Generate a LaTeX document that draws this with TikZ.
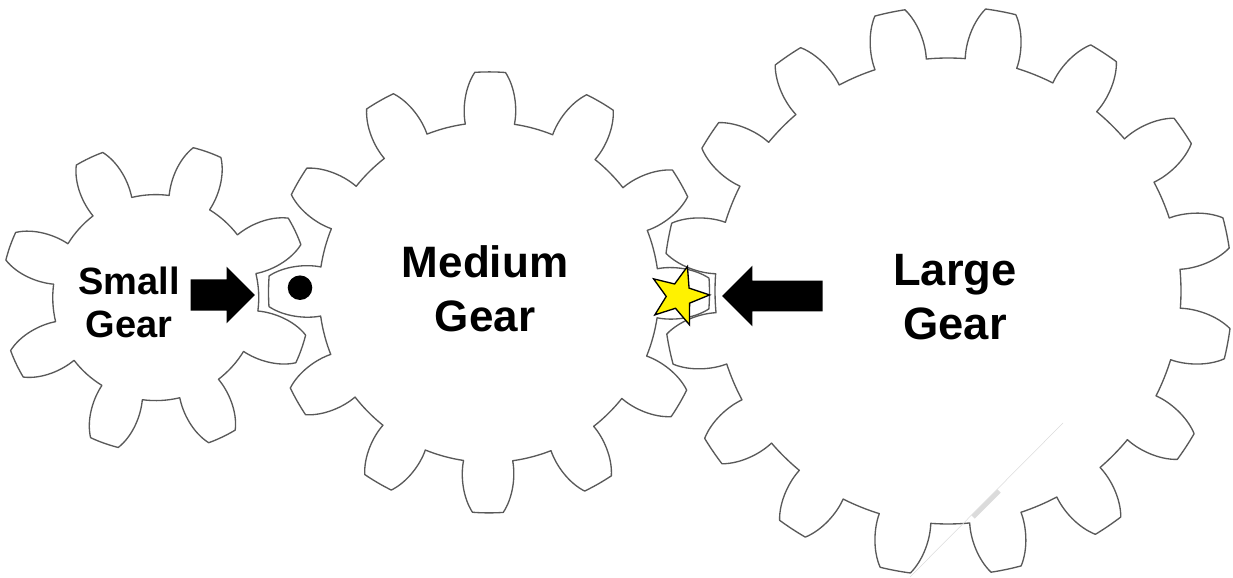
\documentclass[tikz,border=0pt]{standalone}
\usepackage{fontspec}
\setmainfont{Liberation Sans}
\usetikzlibrary{
    arrows.meta,
    positioning,
    shapes.arrows,
    shapes.geometric,
}
\tikzstyle{gear}=[draw=black!65,line width=1pt,line join=round]
\tikzstyle{label}=[align=center,inner sep=0mm,font=\bfseries]
\tikzstyle{push}=[single arrow,fill=black,inner sep=0mm,outer sep=0mm,single arrow head extend=#1]
\tikzstyle{scratch}=[draw=black!14,line cap=butt]
% centre x, centre y, teeth, first tooth angle, root radius, tip radius, half tooth at root, half tooth at tip
\newcommand{\Gear}[8]{%
    \begin{scope}[shift={(#1,#2)}]
        \pgfmathsetmacro\GearPitch{360/#3}
        \pgfmathsetmacro\GearDiff{#6-#5}
        \draw[gear] ({#4-#7}:#5)
            foreach \i [evaluate=\i as \T using #4+(\i-1)*\GearPitch] in {1,...,#3} {
                .. controls ({\T-1.03*#7}:{#5+.3*\GearDiff}) and ({\T-.85*#7}:{#5+.72*\GearDiff}) .. ({\T-#8}:#6)
                arc[start angle=\T-#8,end angle=\T+#8,radius=#6]
                .. controls ({\T+.85*#7}:{#5+.72*\GearDiff}) and ({\T+1.03*#7}:{#5+.3*\GearDiff}) .. ({\T+#7}:#5)
                arc[start angle=\T+#7,end angle=\T+\GearPitch-#7,radius=#5]
            } -- cycle;
    \end{scope}
}

\begin{document}
\begin{tikzpicture}[x=.75pt,y=.75pt]
    \useasboundingbox (0,0) rectangle (1233,578);

    % Gears
    \Gear{155.75}{280.4}{8}{25.5}{103}{154.5}{12}{5.45}
    \Gear{489}{285.6}{12}{-.3}{170}{220.5}{8.3}{4}
    \Gear{948}{287}{16}{11.8}{233}{284.5}{6.45}{3.1}

    % Scratches
    \coordinate (scratch a) at (1063,155);
    \coordinate (scratch b) at (910,1);
    \coordinate (scratch c) at (973,61);
    \coordinate (scratch d) at (999,87);
    \draw[scratch,line width=.4pt] (scratch a) -- (scratch b);
    \draw[scratch,line width=3.6pt] (scratch c) -- (scratch d);

    % Labels
    \node[label,font=\bfseries\fontsize{28.5}{32.3}\selectfont] (Small Gear) at (129,276) {Small\\Gear};
    \node[label,font=\bfseries\fontsize{33}{40.5}\selectfont] (Medium Gear) at (485,289) {Medium\\Gear};
    \node[label,font=\bfseries\fontsize{34}{41}\selectfont] (Large Gear) at (955,281) {Large\\Gear};

    % Arrows
    \node[push=9.6pt,minimum height=48.2pt,anchor=tail] (small arrow) at (190.7,283) {\rule{0pt}{23pt}};
    \node[push=11.25pt,minimum height=75.5pt,shape border rotate=180,anchor=tail] (large arrow) at (822.7,282) {\rule{0pt}{22.5pt}};

    % Markers
    \node[circle,fill=black,inner sep=0mm,minimum size=18.4pt] (dot) at (300,290.3) {};
    \node[star,star points=5,star point ratio=2.4,draw=black,line width=1pt,fill=yellow,inner sep=0mm,minimum size=46pt,shape border rotate=-16] (mark) at (679,282) {};
\end{tikzpicture}
\end{document}
